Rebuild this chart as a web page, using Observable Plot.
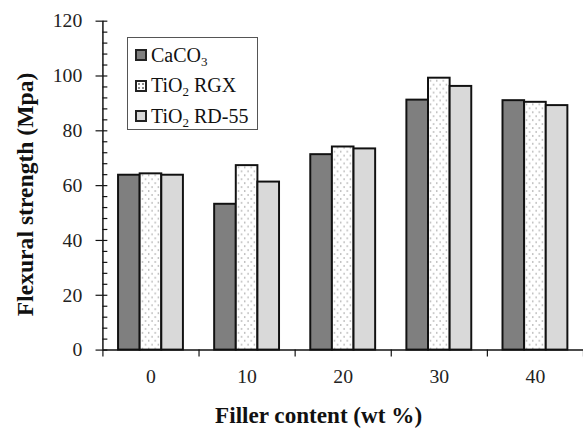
<!DOCTYPE html>
<html>
<head>
<meta charset="utf-8">
<script src="https://cdn.jsdelivr.net/npm/d3@7"></script>
<script src="https://cdn.jsdelivr.net/npm/@observablehq/plot@0.6"></script>
<style>
  html, body { margin: 0; padding: 0; background: white; overflow: hidden; }
  #wrap { position: relative; width: 583px; height: 437px; overflow: hidden; }
  #legend {
    position: absolute; left: 127px; top: 37px; width: 131px; height: 93px;
    border: 1px solid #555; background: white; box-sizing: border-box;
    font-family: "Liberation Serif", "Times New Roman", serif; font-size: 20px; color: #111;
    padding-top: 2px;
  }
  #legend .row { display: flex; align-items: center; height: 30.5px; padding-left: 7px; }
  #legend .sw { width: 8px; height: 8px; border: 2px solid #222; margin-right: 4px; flex: none; }
  #legend sub { font-size: 13px; vertical-align: -4px; line-height: 0; }
</style>
</head>
<body>
<div id="wrap">
  <div id="chart"></div>
  <div id="legend"></div>
</div>
<script>
// ---- data ----
const fillerContent = [0, 10, 20, 30, 40];
const seriesNames = ["CaCO3", "TiO2 RGX", "TiO2 RD-55"];
const caco3 = [63.8, 53.2, 71.3, 91.2, 91.0];
const tio2RGX = [64.3, 67.3, 74.1, 99.2, 90.4];
const tio2RD55 = [63.8, 61.3, 73.4, 96.2, 89.2];
const yMajorTicks = [0, 20, 40, 60, 80, 100, 120];
const xTickLabels = ["0", "10", "20", "30", "40"];

// ---- styles ----
const seriesValues = [caco3, tio2RGX, tio2RD55];
const seriesFill = ["#7f7f7f", "url(#dots)", "#d9d9d9"];
const barUnits = 2.25;          // bar width in x units
const groupUnits = barUnits * seriesNames.length;

const rows = [];
seriesNames.forEach((s, i) => {
  fillerContent.forEach((g, j) => {
    rows.push({series: s, i, filler: g, value: seriesValues[i][j]});
  });
});
const xLabelRows = fillerContent.map((g, k) => ({g, label: xTickLabels[k]}));

const yMinor = d3.range(0, 121, 4);
const boundaries = d3.range(-5, 46, 10);

const W = 592, H = 437, ML = 104, MT = 21, MB = 82, MR = 0;
const plotW = W - ML - MR;

const defs = () => {
  const d = d3.create("svg:defs");
  const p = d.append("pattern").attr("id", "dots").attr("patternUnits", "userSpaceOnUse")
    .attr("width", 6.5).attr("height", 8);
  p.append("rect").attr("width", 6.5).attr("height", 8).attr("fill", "white");
  p.append("circle").attr("cx", 1.6).attr("cy", 2).attr("r", 0.75).attr("fill", "#8a8a8a");
  p.append("circle").attr("cx", 4.85).attr("cy", 6).attr("r", 0.75).attr("fill", "#8a8a8a");
  return d.node();
};

const chart = Plot.plot({
  width: W, height: H,
  marginLeft: ML, marginTop: MT, marginBottom: MB, marginRight: MR,
  style: {fontFamily: "'Liberation Serif', 'Times New Roman', serif", color: "#111", background: "white"},
  x: {type: "linear", domain: [-5, 45], axis: null},
  y: {domain: [0, 120], axis: null},
  marks: [
    defs,
    Plot.rectY(rows, {
      x1: d => d.filler - groupUnits / 2 + d.i * barUnits,
      x2: d => d.filler - groupUnits / 2 + (d.i + 1) * barUnits,
      y1: 0, y2: "value",
      fill: d => seriesFill[d.i],
      stroke: "#111", strokeWidth: 2
    }),
    // y axis: minor inner ticks, major crossing ticks, labels
    Plot.tickY(yMinor, {y: d => d, insetRight: plotW - 5, stroke: "#111", strokeWidth: 1.2}),
    Plot.axisY({ticks: yMajorTicks, tickSize: 7, text: null, label: null, strokeWidth: 1.2}),
    Plot.text(yMajorTicks, {y: d => d, text: d => String(d), frameAnchor: "left", textAnchor: "end",
      dx: -21, fontSize: 20, fill: "#222", lineAnchor: "middle"}),
    // x axis: boundary ticks and centered labels
    Plot.axisX({ticks: boundaries, tickSize: 7, text: null, label: null, strokeWidth: 1.2}),
    Plot.text(xLabelRows, {x: "g", text: "label", frameAnchor: "bottom", dy: 27,
      fontSize: 20, fill: "#222", lineAnchor: "middle"}),
    Plot.ruleX([-5], {stroke: "#111", strokeWidth: 1.5}),
    Plot.ruleY([0], {stroke: "#111", strokeWidth: 1.5}),
    // axis titles
    Plot.text(["Flexural strength (Mpa)"], {frameAnchor: "left", text: d => d, rotate: -90,
      dx: -79, dy: 9, textAnchor: "middle",
      fontSize: 24, fontWeight: "bold", fill: "#111", lineAnchor: "middle"}),
    Plot.text(["Filler content (wt %)"], {frameAnchor: "bottom", text: d => d, textAnchor: "middle",
      dx: -25, dy: 67,
      fontSize: 23.5, fontWeight: "bold", fill: "#111", lineAnchor: "middle"})
  ]
});
document.getElementById("chart").appendChild(chart);

// legend
const legendLabels = ["CaCO<sub>3</sub>", "TiO<sub>2</sub>&nbsp;RGX", "TiO<sub>2</sub>&nbsp;RD-55"];
const swBg = [
  "background:#7f7f7f",
  "background-color:white;background-image:radial-gradient(circle,#8a8a8a 0.8px,transparent 1.1px);background-size:4px 4px",
  "background:#d9d9d9"
];
document.getElementById("legend").innerHTML = seriesNames.map((s, i) =>
  `<div class="row"><span class="sw" style="${swBg[i]}"></span><span>${legendLabels[i]}</span></div>`
).join("");
</script>
</body>
</html>
